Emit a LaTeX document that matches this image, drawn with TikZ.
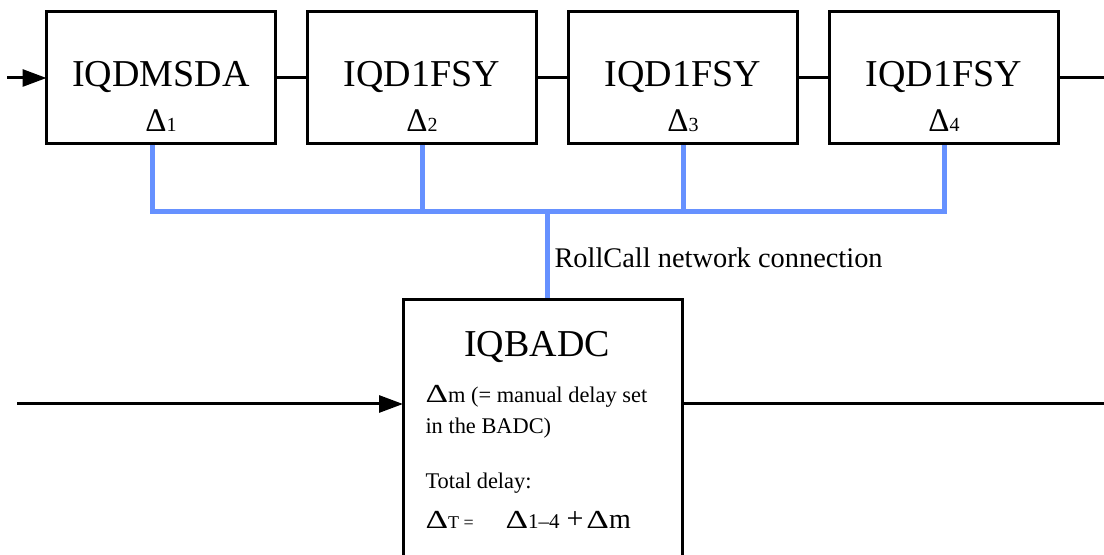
\documentclass[tikz,border=0pt]{standalone}
\usepackage{fontspec}
\usepackage{graphicx}
\setmainfont{Liberation Serif}
\usetikzlibrary{positioning,arrows.meta}
\definecolor{rcblue}{RGB}{102,145,255}
\newcommand{\dsub}[1]{{\fontsize{10}{10}\selectfont #1}}
\newcommand{\bD}{{\fontsize{13}{13}\selectfont\scalebox{1.35}[1]{Δ}}}

\begin{document}
\begin{tikzpicture}[x=0.5pt,y=-0.5pt,line width=1.5pt,>={Triangle[length=12pt,width=8.5pt]},node distance=16pt,
	box/.style={draw,rectangle,minimum width=114.5pt,minimum height=66pt,outer sep=0pt,inner sep=0pt},
	title/.style={anchor=base,inner sep=0pt,font=\fontsize{19}{19}\selectfont},
	dlabel/.style={anchor=base,inner sep=0pt,font=\fontsize{16.5}{16.5}\selectfont},
	note/.style={anchor=base west,inner sep=0pt,font=\fontsize{11.2}{11.2}\selectfont},
	rcnet/.style={draw=rcblue,line width=2.5pt,shorten <=.75pt,shorten >=.75pt}]
	\useasboundingbox (0,0) rectangle (1104,555);
	\clip (0,0) rectangle (1104,555);
	
	% delay chain
	\node[box] (D1) at (161,78) {};
	\node[box,right=of D1] (D2) {};
	\node[box,right=of D2] (D3) {};
	\node[box,right=of D3] (D4) {};
	\node[title] (T1) at ([yshift=-4.5pt]D1.center) {IQDMSDA};
	\node[title] (T2) at ([yshift=-4.5pt]D2.center) {IQD1FSY};
	\node[title] (T3) at ([yshift=-4.5pt]D3.center) {IQD1FSY};
	\node[title] (T4) at ([yshift=-4.5pt]D4.center) {IQD1FSY};
	\node[dlabel] (L1) at ([yshift=-27pt]D1.center) {Δ\dsub{1}};
	\node[dlabel] (L2) at ([yshift=-27pt]D2.center) {Δ\dsub{2}};
	\node[dlabel] (L3) at ([yshift=-27pt]D3.center) {Δ\dsub{3}};
	\node[dlabel] (L4) at ([yshift=-27pt]D4.center) {Δ\dsub{4}};
	
	\coordinate (in1) at (7,78);
	\coordinate (out1) at (1110,78);
	\draw[->] (in1) -- (D1.west);
	\draw (D1.east) -- (D2.west);
	\draw (D2.east) -- (D3.west);
	\draw (D3.east) -- (D4.west);
	\draw (D4.east) -- (out1);
	
	% BADC
	\node[box,minimum width=139.5pt,minimum height=140pt] (BADC) at (542.5,440) {};
	\node[title] (TB) at (537,357) {IQBADC};
	\node[note] (M1) at (424,403) {\bD m (= manual delay set};
	\node[note] (M2) at (424,434) {in the BADC)};
	\node[note] (M3) at (424,489) {Total delay:};
	\node[note] (M4) at (424,529) {\bD{\fontsize{9}{9}\selectfont T =}};
	\node[note] (M5) at (504,529) {\bD{\fontsize{10.5}{10.5}\selectfont 1–4}\hspace{3.5pt}{\fontsize{15}{15}\selectfont +}\hspace{1.5pt}\bD{\fontsize{14}{14}\selectfont m}};
	
	\coordinate (in2) at (17,404);
	\coordinate (out2) at (1110,404);
	\draw[->] (in2) -- (in2 -| BADC.west);
	\draw (BADC.east |- in2) -- (out2);
	
	% RollCall network
	\coordinate (bus) at (547,212);
	\draw[rcnet] ([xshift=-4.5pt]D1.south) |- (D4.south |- bus) -- (D4.south);
	\draw[rcnet] (D2.south) -- (D2.south |- bus);
	\draw[rcnet] (D3.south) -- (D3.south |- bus);
	\draw[rcnet] (bus) -- (bus |- BADC.north);
	\node[anchor=base west,inner sep=0pt,font=\fontsize{14.2}{14.2}\selectfont] (RC) at (553,268) {RollCall network connection};
	
\end{tikzpicture}
\end{document}
